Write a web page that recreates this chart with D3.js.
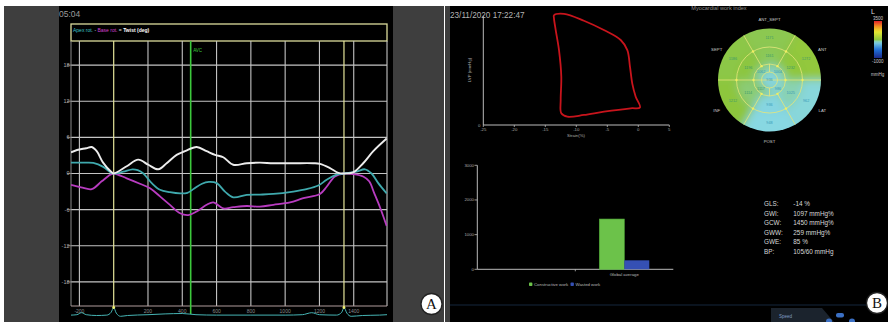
<!DOCTYPE html>
<html><head><meta charset="utf-8">
<script src="https://cdn.jsdelivr.net/npm/d3@7/dist/d3.min.js"></script>
<style>html,body{margin:0;padding:0;background:#fff;overflow:hidden}svg{display:block}</style>
</head><body>
<svg id="chart" width="888" height="322"></svg>
<script>
// ================= DATA =================
// Panel A – rotation curves: [time (ms), angle (deg)]
const apexRotation = [[-249,1.8],[-170,1.8],[-119,1.75],[-61,1.1],[-20,0.2],[0,0],[56,0.3],[110,0.7],[140,0.55],[173,0],[222,-1.6],[270,-2.7],[328,-3.1],[387,-3.3],[430,-3.2],[470,-2.5],[515,-1.7],[555,-1.4],[601,-1.6],[649,-3.0],[697,-3.95],[776,-3.55],[853,-3.5],[931,-3.4],[1047,-3.0],[1125,-2.6],[1193,-2.0],[1242,-1.05],[1300,-0.2],[1343,0],[1417,0.3],[1465,0.7],[1504,0],[1543,-1.6],[1592,-3.3]];
const baseRotation = [[-249,-1.9],[-190,-2.3],[-128,-2.6],[-70,-1.3],[-20,-0.2],[0,0],[76,-0.8],[153,-1.7],[212,-2.45],[270,-3.8],[328,-5.2],[387,-6.6],[435,-6.9],[484,-6.3],[542,-5.2],[581,-4.8],[639,-5.8],[697,-5.6],[776,-5.4],[853,-5.5],[931,-5.2],[1028,-4.8],[1106,-4.1],[1203,-3.4],[1242,-2.2],[1290,-0.5],[1343,0],[1397,-0.1],[1455,-0.5],[1490,-1.3],[1520,-3.3],[1553,-5.6],[1592,-8.7]];
const twistAngle = [[-249,3.5],[-214,3.9],[-160,4.2],[-128,4.4],[-99,3.7],[-62,1.8],[-12,0.2],[0,0],[76,1.2],[143,2.3],[202,1.45],[260,0.7],[309,1.7],[367,3.1],[416,3.7],[484,4.4],[542,3.7],[591,3.1],[639,2.7],[697,1.45],[776,1.7],[853,1.8],[931,1.7],[1047,1.7],[1164,1.7],[1203,1.6],[1261,0.9],[1310,0.1],[1343,0],[1397,0.2],[1455,1.7],[1514,3.7],[1592,5.8]];
const ecgTrace = [[-249,0.05],[-215,0.1],[-187,0.35],[-160,0.1],[-100,0],[-40,0.05],[-15,0.4],[0,1],[15,0.3],[40,-0.1],[80,0],[200,0.1],[300,0.2],[400,0.25],[480,0.1],[600,0.05],[800,0.05],[1000,0.05],[1100,0.1],[1155,0.35],[1200,0.1],[1300,0.05],[1330,0.4],[1343,1],[1360,0.3],[1385,-0.1],[1450,0],[1550,0.05],[1594,0.1]];
const seriesNames = ["Apex rot.", "Base rot.", "Twist (deg)"];
const timeTicks = [-200, 200, 400, 600, 800, 1000, 1200, 1400];
const angleTicks = [-18, -12, -6, 0, 6, 12, 18];
const eventTimes = [0, 449, 1343];
const eventNames = ["", "AVC", ""];
const rPeaks = [0, 1343];

// Panel B – pressure–strain loop: [strain (%), LV pressure (mmHg)]
const pressureStrainLoop = [[-13.6,151],[-11.98,153],[-8.77,143.5],[-5.56,130.7],[-2.84,117],[-1.77,103],[-1.34,80],[-0.97,57],[-0.42,39],[0.27,24],[-1.23,23],[-5.53,18.3],[-8.77,13.8],[-11.45,11.4],[-12.42,16.1],[-12.52,34.4],[-12.42,66.5],[-12.79,103],[-13.32,130.7],[-13.6,146.8]];
const strainTicks = [-25, -20, -15, -10, -5, 0, 5];

// Bull's eye – myocardial work index per segment (mmHg%)
const wallNames = ["ANT_SEPT", "ANT", "LAT", "POST", "INF", "SEPT"];
const basalWork = [1171, 1272, 962, 948, 1212, 1186];
const midWork = [1161, 1232, 1025, 936, 1114, 1196];
const apicalWork = [1004, 986, 1117, 1062];
const apexWork = [936];
const workRange = [-1000, 3500];

// Bar chart – global work
const barSlots = ["", "Global average"];
const workSeries = ["Constructive work", "Wasted work"];
const globalWork = [1450, 259];
const workTicks = [0, 1000, 2000, 3000];

// Summary metrics
const metricLabels = ["GLS:", "GWI:", "GCW:", "GWW:", "GWE:", "BP:"];
const metricValues = ["-14 %", "1097 mmHg%", "1450 mmHg%", "259 mmHg%", "85 %", "105/60 mmHg"];

// ================= DRAW =================
const FONT = "'Liberation Sans', Arial, sans-serif";
const svg = d3.select("#chart");
const defs = svg.append("defs");

// backgrounds
svg.append("rect").attr("width", 888).attr("height", 322).attr("fill", "#fff");
svg.append("rect").attr("x", 4).attr("y", 6).attr("width", 440).attr("height", 316).attr("fill", "#3e3e3e");
svg.append("rect").attr("x", 59).attr("y", 6).attr("width", 334).attr("height", 316).attr("fill", "#000");
svg.append("rect").attr("x", 445).attr("y", 6).attr("width", 5).attr("height", 316).attr("fill", "#3e3e3e");
svg.append("rect").attr("x", 450).attr("y", 6).attr("width", 438).attr("height", 316).attr("fill", "#000");

// ---------- Panel A ----------
const gA = svg.append("g");
const xA = d3.scaleLinear().domain([-249, 1594]).range([71, 387]);
const yA = d3.scaleLinear().domain([-22, 22]).range([306, 41]);

gA.append("text").attr("x", 59).attr("y", 17).attr("font-family", FONT).attr("font-size", 8.5)
  .attr("fill", "#9c9c9c").text("05:04");

gA.append("rect").attr("x", 71).attr("y", 24).attr("width", 316).attr("height", 17)
  .attr("fill", "none").attr("stroke", "#dcdc9c").attr("stroke-width", 1.3);
const lt = gA.append("text").attr("x", 73).attr("y", 31.8).attr("font-family", FONT).attr("font-size", 5);
lt.append("tspan").attr("fill", "#3cc0c8").text(seriesNames[0]);
lt.append("tspan").attr("fill", "#ddd").text(" - ");
lt.append("tspan").attr("fill", "#d040d0").text(seriesNames[1]);
lt.append("tspan").attr("fill", "#ddd").text(" = ");
lt.append("tspan").attr("fill", "#fff").attr("font-weight", "bold").text(seriesNames[2]);

// grid
gA.selectAll(".hg").data(angleTicks).join("line")
  .attr("x1", 71).attr("x2", 387).attr("y1", d => yA(d)).attr("y2", d => yA(d))
  .attr("stroke", "#c4c4c4").attr("stroke-width", 1.1);
gA.selectAll(".ht").data(angleTicks).join("line")
  .attr("x1", 67).attr("x2", 71).attr("y1", d => yA(d)).attr("y2", d => yA(d))
  .attr("stroke", "#aaa").attr("stroke-width", 0.8);
gA.selectAll(".vg").data(timeTicks).join("line")
  .attr("x1", d => xA(d)).attr("x2", d => xA(d)).attr("y1", 41).attr("y2", 306)
  .attr("stroke", "#c4c4c4").attr("stroke-width", 1.1);
gA.append("line").attr("x1", 71).attr("x2", 71).attr("y1", 41).attr("y2", 306).attr("stroke", "#8a8a8a").attr("stroke-width", 1);
gA.append("line").attr("x1", 387).attr("x2", 387).attr("y1", 41).attr("y2", 306).attr("stroke", "#c4c4c4").attr("stroke-width", 1.1);
gA.append("line").attr("x1", 71).attr("x2", 387).attr("y1", 306).attr("y2", 306).attr("stroke", "#b09c9c").attr("stroke-width", 1);

gA.selectAll(".yl").data(angleTicks).join("text")
  .attr("x", 69.5).attr("y", d => yA(d)).attr("dy", "0.35em").attr("text-anchor", "end")
  .attr("font-family", FONT).attr("font-size", 5.5).attr("fill", "#a8a8a8").text(d => d);
gA.selectAll(".xl").data(timeTicks).join("text")
  .attr("x", d => xA(d)).attr("y", 312.5).attr("text-anchor", "middle")
  .attr("font-family", FONT).attr("font-size", 5).attr("fill", "#8c8c8c").text(d => d);

// events
gA.selectAll(".ev").data(eventTimes).join("line")
  .attr("x1", d => xA(d)).attr("x2", d => xA(d)).attr("y1", 41)
  .attr("y2", (d, i) => eventNames[i] ? 314 : 309)
  .attr("stroke", (d, i) => eventNames[i] ? "#3cc83c" : "#e4e49a")
  .attr("stroke-width", (d, i) => eventNames[i] ? 1.6 : 1.2);
gA.selectAll(".evl").data(eventTimes).join("text")
  .attr("x", d => xA(d) + 2.5).attr("y", 52).attr("font-family", FONT).attr("font-size", 4.5)
  .attr("fill", "#3cc83c").text((d, i) => eventNames[i]);

// curves
defs.append("clipPath").attr("id", "clipA").append("rect").attr("x", 71).attr("y", 41).attr("width", 316).attr("height", 265);
const lineA = d3.line().x(d => xA(d[0])).y(d => yA(d[1])).curve(d3.curveCatmullRom.alpha(0.5));
const curves = gA.append("g").attr("clip-path", "url(#clipA)");
curves.append("path").attr("d", lineA(baseRotation)).attr("fill", "none").attr("stroke", "#b83cc0").attr("stroke-width", 1.8);
curves.append("path").attr("d", lineA(apexRotation)).attr("fill", "none").attr("stroke", "#3fa9ad").attr("stroke-width", 1.8);
curves.append("path").attr("d", lineA(twistAngle)).attr("fill", "none").attr("stroke", "#ececec").attr("stroke-width", 1.9);

// ECG strip
const yE = d3.scaleLinear().domain([0, 1]).range([315.5, 307.5]);
const lineE = d3.line().x(d => xA(d[0])).y(d => yE(d[1])).curve(d3.curveMonotoneX);
gA.append("path").attr("d", lineE(ecgTrace)).attr("fill", "none").attr("stroke", "#46b4b4").attr("stroke-width", 1);
gA.selectAll(".rp").data(rPeaks).join("circle")
  .attr("cx", d => xA(d)).attr("cy", yE(1)).attr("r", 1.4).attr("fill", "#f0f070");

// badge A
function badge(x, y, t) {
  svg.append("circle").attr("cx", x).attr("cy", y).attr("r", 10.5).attr("fill", "#fff").attr("stroke", "#222").attr("stroke-width", 1.3);
  svg.append("text").attr("x", x).attr("y", y).attr("dy", "0.36em").attr("text-anchor", "middle")
    .attr("font-family", "'Liberation Serif','DejaVu Serif',serif").attr("font-size", 15).attr("fill", "#111").text(t);
}
badge(431.5, 304, "A");

// ---------- Panel B ----------
const gB = svg.append("g");
gB.append("text").attr("x", 450).attr("y", 18).attr("font-family", FONT).attr("font-size", 8.2)
  .attr("fill", "#b4b4b4").text("23/11/2020 17:22:47");
gB.append("text").attr("x", 719).attr("y", 10).attr("text-anchor", "middle").attr("font-family", FONT)
  .attr("font-size", 5.6).attr("fill", "#909090").text("Myocardial work index");

// pressure-strain loop
const xS = d3.scaleLinear().domain([-25, 5]).range([483.3, 669.3]);
const yP = d3.scaleLinear().domain([0, 150]).range([125, 16]);
gB.append("line").attr("x1", xS(-25)).attr("x2", xS(-25)).attr("y1", yP(150)).attr("y2", yP(0)).attr("stroke", "#bbb").attr("stroke-width", 1);
gB.append("line").attr("x1", xS(-25)).attr("x2", xS(5)).attr("y1", yP(0)).attr("y2", yP(0)).attr("stroke", "#bbb").attr("stroke-width", 1);
gB.selectAll(".st").data(strainTicks).join("line")
  .attr("x1", d => xS(d)).attr("x2", d => xS(d)).attr("y1", yP(0)).attr("y2", yP(0) + 2).attr("stroke", "#bbb").attr("stroke-width", 0.8);
gB.selectAll(".sl").data(strainTicks).join("text")
  .attr("x", d => xS(d)).attr("y", 131).attr("text-anchor", "middle").attr("font-family", FONT)
  .attr("font-size", 4.3).attr("fill", "#aaa").text(d => d);
gB.append("text").attr("x", xS(-25) - 3).attr("y", yP(0) + 1.5).attr("text-anchor", "end").attr("font-family", FONT)
  .attr("font-size", 4.3).attr("fill", "#aaa").text("0");
gB.append("text").attr("x", 576).attr("y", 137).attr("text-anchor", "middle").attr("font-family", FONT)
  .attr("font-size", 4.3).attr("fill", "#aaa").text("Strain(%)");
gB.append("text").attr("transform", "translate(471,70) rotate(-90)").attr("text-anchor", "middle")
  .attr("font-family", FONT).attr("font-size", 4.3).attr("fill", "#aaa").text("LVP (mmHg)");
const loopLine = d3.line().x(d => xS(d[0])).y(d => yP(d[1])).curve(d3.curveCatmullRomClosed.alpha(0.5));
gB.append("path").attr("d", loopLine(pressureStrainLoop)).attr("fill", "none").attr("stroke", "#c8141c").attr("stroke-width", 1.8);

// bull's eye
const workColor = d3.scaleLinear()
  .domain([-1000, 0, 950, 1200, 2200, 2900, 3500])
  .range(["#1c2a8c", "#1f6fd8", "#88d8e2", "#8cc63e", "#e8e830", "#f08a20", "#e0202a"]).clamp(true);
const cx = 769.5, cy = 80, R = [8, 16, 33, 51.5];
const be = gB.append("g").attr("transform", `translate(${cx},${cy})`);
defs.append("clipPath").attr("id", "clipBE").append("circle").attr("r", R[3]);
const blur = defs.append("filter").attr("id", "soft").attr("x", "-30%").attr("y", "-30%").attr("width", "160%").attr("height", "160%");
blur.append("feGaussianBlur").attr("stdDeviation", 4);
const fillG = be.append("g").attr("clip-path", "url(#clipBE)").append("g").attr("filter", "url(#soft)");
const deg = Math.PI / 180;
const ring6 = (vals, r0, r1) => vals.map((v, i) => ({v, r0, r1, a0: (-30 + 60 * i) * deg, a1: (30 + 60 * i) * deg, i}));
const ring4 = (vals, r0, r1) => vals.map((v, i) => ({v, r0, r1, a0: (90 * i) * deg, a1: (90 * i + 90) * deg, i}));
const segs = [
  ...ring6(basalWork, R[2], R[3] + 12),
  ...ring6(midWork, R[1], R[2]),
  ...ring4(apicalWork, R[0], R[1]),
  {v: apexWork[0], r0: 0, r1: R[0], a0: 0, a1: 2 * Math.PI}
];
fillG.selectAll("path").data(segs).join("path")
  .attr("d", d => d3.arc()({innerRadius: d.r0, outerRadius: d.r1, startAngle: d.a0, endAngle: d.a1}))
  .attr("fill", d => workColor(d.v)).attr("stroke", d => workColor(d.v)).attr("stroke-width", 0.5);

const yel = "#e6e67a";
be.selectAll(".rc").data(R.slice(0, 3)).join("circle").attr("r", d => d)
  .attr("fill", "none").attr("stroke", yel).attr("stroke-width", 0.8);
be.append("line").attr("x1", -R[3]).attr("x2", R[3]).attr("stroke", yel).attr("stroke-width", 0.8);
const spokes6 = [30, 150, 210, 330];
be.selectAll(".sp").data(spokes6).join("line")
  .attr("x1", d => R[1] * Math.sin(d * deg)).attr("y1", d => -R[1] * Math.cos(d * deg))
  .attr("x2", d => R[3] * Math.sin(d * deg)).attr("y2", d => -R[3] * Math.cos(d * deg))
  .attr("stroke", yel).attr("stroke-width", 0.8);
be.selectAll(".sp4").data([0, 180]).join("line")
  .attr("x1", d => R[0] * Math.sin(d * deg)).attr("y1", d => -R[0] * Math.cos(d * deg))
  .attr("x2", d => R[1] * Math.sin(d * deg)).attr("y2", d => -R[1] * Math.cos(d * deg))
  .attr("stroke", yel).attr("stroke-width", 0.8);
const dots = [];
[30, 90, 150, 210, 270, 330].forEach(a => [R[1], R[2]].forEach(r => dots.push([r * Math.sin(a * deg), -r * Math.cos(a * deg)])));
be.selectAll(".dt").data(dots).join("circle").attr("cx", d => d[0]).attr("cy", d => d[1]).attr("r", 1.2).attr("fill", "#f0f060");

const labelPos = segs.map(d => {
  const rm = d.r0 === 0 ? 0 : (d.r0 + Math.min(d.r1, R[3])) / 2;
  const am = (d.a0 + d.a1) / 2;
  return {v: d.v, x: rm * Math.sin(am), y: -rm * Math.cos(am)};
});
be.selectAll(".sv").data(labelPos).join("text")
  .attr("x", d => d.x).attr("y", d => d.y).attr("dy", "0.35em").attr("text-anchor", "middle")
  .attr("font-family", FONT).attr("font-size", 3.8).attr("fill", d => d.v >= 1100 ? "#3d9a6a" : "#3a9ab8").text(d => d.v);
be.selectAll(".wn").data(wallNames).join("text")
  .attr("x", (d, i) => 61 * Math.sin(i * 60 * deg)).attr("y", (d, i) => -61 * Math.cos(i * 60 * deg))
  .attr("dy", "0.35em").attr("text-anchor", "middle").attr("font-family", FONT).attr("font-size", 4.3)
  .attr("fill", "#c8c8c8").text(d => d);

// colour bar
const grad = defs.append("linearGradient").attr("id", "cbar").attr("x1", 0).attr("x2", 0).attr("y1", 1).attr("y2", 0);
d3.range(0, 1.0001, 0.05).forEach(t => grad.append("stop").attr("offset", t)
  .attr("stop-color", workColor(workRange[0] + t * (workRange[1] - workRange[0]))));
gB.append("rect").attr("x", 874).attr("y", 21).attr("width", 8).attr("height", 37).attr("fill", "url(#cbar)");
gB.append("text").attr("x", 871).attr("y", 14).attr("font-family", FONT).attr("font-size", 7).attr("fill", "#ddd").text("L");
gB.append("text").attr("x", 873).attr("y", 19.5).attr("font-family", FONT).attr("font-size", 4.5).attr("fill", "#ccc").text(workRange[1]);
gB.append("text").attr("x", 872).attr("y", 63).attr("font-family", FONT).attr("font-size", 4.5).attr("fill", "#ccc").text(workRange[0]);
gB.append("text").attr("x", 871).attr("y", 76).attr("font-family", FONT).attr("font-size", 4.5).attr("fill", "#ccc").text("mmHg");

// bar chart
const yW = d3.scaleLinear().domain([0, 3000]).range([269.3, 165.3]);
const xB = d3.scaleBand().domain(barSlots).range([477.3, 673.3]);
const xBi = d3.scaleBand().domain(workSeries).range([0, 50]);
const barColors = ["#6cc24a", "#3550b4"];
gB.append("line").attr("x1", 477.3).attr("x2", 477.3).attr("y1", yW(3000)).attr("y2", yW(0)).attr("stroke", "#bbb");
gB.append("line").attr("x1", 477.3).attr("x2", 673.3).attr("y1", yW(0)).attr("y2", yW(0)).attr("stroke", "#bbb");
gB.selectAll(".wt").data(workTicks).join("line").attr("x1", 474.5).attr("x2", 477.3)
  .attr("y1", d => yW(d)).attr("y2", d => yW(d)).attr("stroke", "#bbb").attr("stroke-width", 0.8);
gB.selectAll(".wl").data(workTicks).join("text").attr("x", 474).attr("y", d => yW(d)).attr("dy", "0.35em")
  .attr("text-anchor", "end").attr("font-family", FONT).attr("font-size", 4.3).attr("fill", "#aaa").text(d => d);
gB.append("line").attr("x1", xB(barSlots[1])).attr("x2", xB(barSlots[1])).attr("y1", yW(0)).attr("y2", yW(0) + 2).attr("stroke", "#bbb").attr("stroke-width", 0.8);
gB.append("text").attr("x", xB(barSlots[1]) + xB.bandwidth() / 2).attr("y", 276).attr("text-anchor", "middle")
  .attr("font-family", FONT).attr("font-size", 4.3).attr("fill", "#bbb").text(barSlots[1]);
const gx = xB(barSlots[1]) + xB.bandwidth() / 2 - 25;
gB.selectAll(".bar").data(globalWork).join("rect")
  .attr("x", (d, i) => gx + xBi(workSeries[i])).attr("width", xBi.bandwidth())
  .attr("y", d => yW(d)).attr("height", d => yW(0) - yW(d))
  .attr("fill", (d, i) => barColors[i]).attr("stroke", (d, i) => i === 0 ? "#4fa838" : "none").attr("stroke-width", 0.6);
const lg = gB.selectAll(".lg").data(workSeries).join("g")
  .attr("transform", (d, i) => `translate(${i === 0 ? 529 : 570.5},284.3)`);
lg.append("rect").attr("x", 0).attr("y", -1.7).attr("width", 3.4).attr("height", 3.4).attr("rx", 0.8).attr("fill", (d, i) => barColors[i]);
lg.append("text").attr("x", 5).attr("dy", "0.35em").attr("font-family", FONT).attr("font-size", 4.3).attr("fill", "#bbb").text(d => d);

// metrics
gB.selectAll(".ml").data(metricLabels).join("text").attr("x", 764).attr("y", (d, i) => 203.8 + i * 9.6).attr("dy", "0.35em")
  .attr("font-family", FONT).attr("font-size", 6.4).attr("fill", "#d8d8d8").text(d => d);
gB.selectAll(".mv").data(metricValues).join("text").attr("x", 793.3).attr("y", (d, i) => 203.8 + i * 9.6).attr("dy", "0.35em")
  .attr("font-family", FONT).attr("font-size", 6.4).attr("fill", "#d8d8d8").text(d => d);

// bottom toolbar
gB.append("line").attr("x1", 450).attr("x2", 888).attr("y1", 305).attr("y2", 305).attr("stroke", "#15263c").attr("stroke-width", 1);
gB.append("path").attr("d", "M771,308 L822,308 L834,322 L771,322 Z").attr("fill", "#1b232d");
gB.append("text").attr("x", 779).attr("y", 317.5).attr("font-family", FONT).attr("font-size", 4.5).attr("fill", "#7f9cc4").text("Speed");
gB.append("rect").attr("x", 836).attr("y", 313).attr("width", 8).attr("height", 4.5).attr("rx", 2).attr("fill", "#3b70c4");
gB.selectAll(".bt").data([829, 852]).join("circle").attr("cx", d => d).attr("cy", 321.5).attr("r", 3).attr("fill", "#3b70c4");

badge(877, 303, "B");
</script>
</body></html>
